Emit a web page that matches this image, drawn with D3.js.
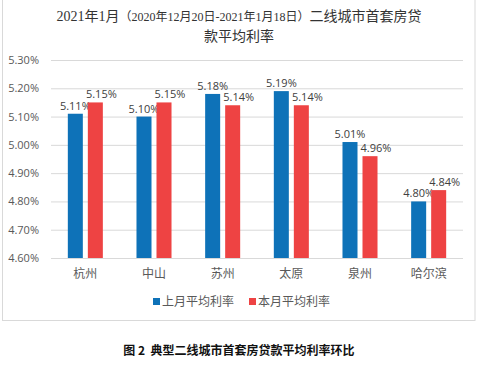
<!DOCTYPE html>
<html><head><meta charset="utf-8">
<script src="https://cdn.jsdelivr.net/npm/d3@7"></script>
<style>body{margin:0;background:#fff}</style>
</head><body>
<svg id="c" width="478" height="367"></svg>
<script>
const categories = ["杭州","中山","苏州","太原","泉州","哈尔滨"];
const seriesNames = ["上月平均利率","本月平均利率"];
const lastMonth = [5.11,5.10,5.18,5.19,5.01,4.80];
const thisMonth = [5.15,5.15,5.14,5.14,4.96,4.84];
const yTicks = [4.6,4.7,4.8,4.9,5.0,5.1,5.2,5.3];
const colors = ["#0E72B8","#EE4343"];

const svg = d3.select("#c");
const cjk = "'Noto Sans CJK SC','Noto Sans',sans-serif";
const numFont = "'Open Sans','Noto Sans',sans-serif";
const titleFont = "'Liberation Serif','Noto Sans CJK SC',serif";

// chart frame
svg.append("rect").attr("x",2.5).attr("y",-1).attr("width",472.5).attr("height",321.5)
  .attr("fill","none").attr("stroke","#d9d9d9");

// title
const t = svg.append("text").attr("x",239).attr("y",21).attr("text-anchor","middle")
  .attr("fill","#333").style("font-family",titleFont);
t.append("tspan").attr("font-size",14).text("2021年1月");
t.append("tspan").attr("font-size",12).text("（2020年12月20日-2021年1月18日）");
t.append("tspan").attr("font-size",14).text("二线城市首套房贷");
svg.append("text").attr("x",239).attr("y",41).attr("text-anchor","middle")
  .attr("fill","#333").attr("font-size",14).style("font-family",titleFont)
  .text("款平均利率");

const y = d3.scaleLinear().domain([4.6,5.3]).range([258,60]);
const x0 = d3.scaleBand().domain(categories).range([51,463]).paddingInner(0.49).paddingOuter(0.245);
const x1 = d3.scaleBand().domain(seriesNames).range([0,x0.bandwidth()]).paddingInner(0.25);

// gridlines
const yAxis = d3.axisLeft(y).tickValues(yTicks).tickSize(-(463-51)).tickFormat(d=>d.toFixed(2)+"%");
const ga = svg.append("g").attr("transform","translate(51,0)").call(yAxis);
ga.select(".domain").remove();
ga.selectAll(".tick line").attr("stroke","#d9d9d9");
ga.selectAll(".tick text").attr("x",-12).attr("fill","#595959").attr("font-size",11)
  .style("font-family",numFont);

const seriesData = [lastMonth, thisMonth];
const g = svg.append("g");
seriesNames.forEach((s,si)=>{
  g.selectAll(null).data(categories).enter().append("rect")
    .attr("x",c=>x0(c)+x1(s))
    .attr("y",(c,i)=>y(seriesData[si][i]))
    .attr("width",x1.bandwidth())
    .attr("height",(c,i)=>y(4.6)-y(seriesData[si][i]))
    .attr("fill",colors[si]);
  g.selectAll(null).data(categories).enter().append("text")
    .attr("x",c=>x0(c)+x1(s)+x1.bandwidth()/2 + (si===1?6:0))
    .attr("y",(c,i)=>y(seriesData[si][i])-4)
    .attr("text-anchor","middle").attr("fill","#404040").attr("font-size",11)
    .style("font-family",numFont)
    .text((c,i)=>seriesData[si][i].toFixed(2)+"%");
});

// x axis labels
const xa = d3.axisBottom(x0).tickSize(0).tickPadding(11);
const gx = svg.append("g").attr("transform","translate(0,258)").call(xa);
gx.select(".domain").remove();
gx.selectAll(".tick text").attr("fill","#595959").attr("font-size",12).style("font-family",cjk);

// legend
const legX = [153,249];
seriesNames.forEach((s,i)=>{
  svg.append("rect").attr("x",legX[i]).attr("y",298).attr("width",7).attr("height",7).attr("fill",colors[i]);
  svg.append("text").attr("x",legX[i]+9).attr("y",306).attr("fill","#595959").attr("font-size",12)
    .style("font-family",cjk).text(s);
});

// caption
svg.append("text").attr("x",239).attr("y",355).attr("text-anchor","middle").attr("fill","#111")
  .attr("font-size",12).attr("font-weight","bold").style("font-family",cjk).style("white-space","pre")
  .text("图 2  典型二线城市首套房贷款平均利率环比");
</script>
</body></html>
